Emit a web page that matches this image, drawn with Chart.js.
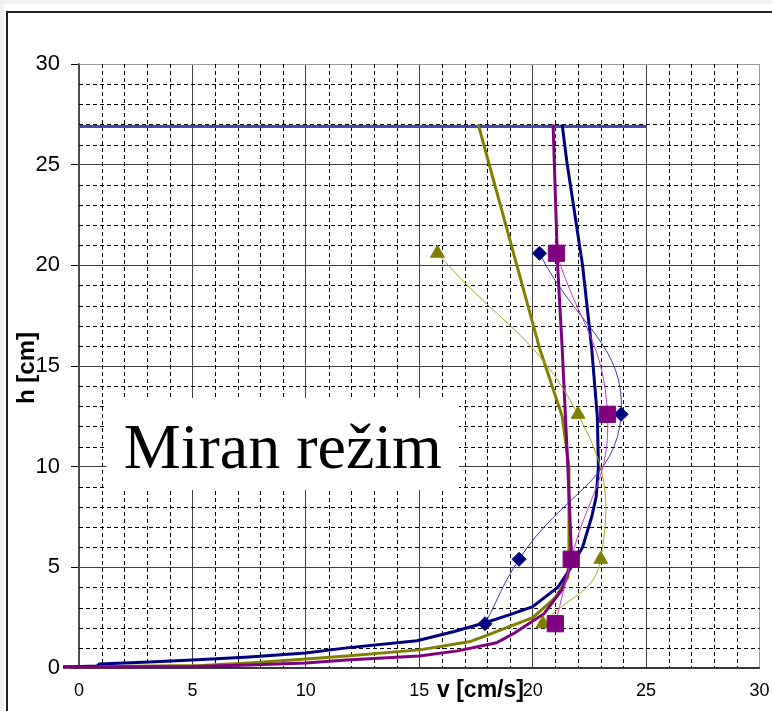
<!DOCTYPE html>
<html lang="sr">
<head>
<meta charset="UTF-8">
<title>Miran režim</title>
<script src="https://cdn.jsdelivr.net/npm/chart.js"></script>
<style>
  html, body { margin: 0; padding: 0; overflow: hidden; }
  body { width: 772px; height: 711px; background: #f2f2f2; position: relative; }
  .sheet { position: absolute; left: 4px; top: 4px; width: 768px; height: 707px; background: #fff; }
  .frame { position: absolute; left: 6px; top: 11px; width: 800px; height: 800px;
           border-left: 2px solid #222; border-top: 2px solid #222; }
  #chart { position: absolute; left: 0; top: 0; }
</style>
</head>
<body>
<div class="sheet"></div>
<div class="frame"></div>
<canvas id="chart" width="772" height="711"></canvas>
<script>
// measured points (v [cm/s], h [cm])
const depths = [20.6, 12.6, 5.4, 2.2];
const measBlue = [20.3, 23.9, 19.4, 17.9];
const measPurple = [21.05, 23.3, 21.7, 21.0];
const measOlive = [15.8, 22.0, 23.0, 20.45];

// computed profiles
const blueV = [-0.7, 0.8, 0.9, 3.1, 5.0, 7.5, 10, 11.8, 14.9, 16.5, 17.9, 19.0, 20.0, 21.1, 21.7, 22.2, 22.6, 22.8, 22.9, 22.85, 22.6, 22.2, 21.85, 21.5, 21.3];
const blueH = [0.05, 0.1, 0.2, 0.3, 0.4, 0.55, 0.75, 1.0, 1.35, 1.8, 2.25, 2.65, 3.05, 4.0, 5.0, 6.0, 7.5, 8.5, 10, 12.5, 15.9, 20, 22.6, 25.2, 27];
const oliveV = [-0.7, 5.4, 7.5, 10, 11.8, 15.0, 17.2, 17.8, 20.0, 21.0, 21.55, 21.6, 21.6, 21.3, 20.3, 17.6];
const oliveH = [0.05, 0.12, 0.25, 0.45, 0.6, 0.9, 1.3, 1.55, 2.5, 3.5, 4.5, 5.9, 10, 12.5, 15.9, 27];
const purpleV = [-0.7, 5.0, 7.5, 10, 11.8, 15.0, 16.7, 18.4, 19.2, 20.5, 21.3, 21.6, 21.7, 21.55, 21.3, 21.1, 20.9];
const purpleH = [0.05, 0.07, 0.15, 0.25, 0.4, 0.6, 0.85, 1.25, 1.74, 2.7, 3.9, 4.9, 5.9, 10, 15.9, 20, 27];

// water level
const levelV = [0, 25];
const levelH = [26.9, 26.9];

const xTicks = [0, 5, 10, 15, 20, 25, 30];
const yTicks = [0, 5, 10, 15, 20, 25, 30];

function pts(xs, ys) { return xs.map((x, i) => ({ x: x, y: ys[i] })); }

const minorGrid = {
  id: 'minorGrid',
  beforeDatasetsDraw(chart) {
    const { ctx, chartArea: a, scales: { x, y } } = chart;
    ctx.save();
    ctx.strokeStyle = '#000';
    ctx.lineWidth = 1;
    ctx.setLineDash([4, 3]);
    for (let v = 1; v < 30; v++) {
      if (v % 5 === 0) continue;
      const px = Math.round(x.getPixelForValue(v)) + 0.5;
      ctx.beginPath(); ctx.moveTo(px, a.top); ctx.lineTo(px, a.bottom); ctx.stroke();
      const py = Math.round(y.getPixelForValue(v)) + 0.5;
      ctx.beginPath(); ctx.moveTo(a.left, py); ctx.lineTo(a.right, py); ctx.stroke();
    }
    ctx.setLineDash([]);
    // label box
    const bx0 = x.getPixelForValue(1.22), bx1 = x.getPixelForValue(16.75);
    const by0 = y.getPixelForValue(13.41), by1 = y.getPixelForValue(8.84);
    ctx.fillStyle = '#fff';
    ctx.fillRect(bx0, by0, bx1 - bx0, by1 - by0);
    ctx.fillStyle = '#000';
    ctx.font = '64px "Liberation Serif", "Times New Roman", serif';
    ctx.textAlign = 'center';
    ctx.textBaseline = 'alphabetic';
    ctx.fillText('Miran režim', (bx0 + bx1) / 2, y.getPixelForValue(9.94));
    ctx.restore();
  },
  afterDraw(chart) {
    const { ctx, scales: { x, y } } = chart;
    ctx.save();
    ctx.fillStyle = '#000';
    ctx.font = 'bold 23px "Liberation Sans", Arial, sans-serif';
    ctx.textAlign = 'center';
    ctx.textBaseline = 'middle';
    ctx.fillText('v [cm/s]', x.getPixelForValue(17.7), 691);
    ctx.translate(27, y.getPixelForValue(14.9));
    ctx.rotate(-Math.PI / 2);
    ctx.font = 'bold 24px "Liberation Sans", Arial, sans-serif';
    ctx.fillText('h [cm]', 0, 0);
    ctx.restore();
  }
};

function marked(xs, color, lineColor, style, r) {
  return {
    data: pts(xs, depths), showLine: true, borderColor: lineColor, borderWidth: 1,
    tension: 0.45, pointStyle: style, pointRadius: r, pointBackgroundColor: color,
    pointBorderColor: color, pointBorderWidth: 1, clip: false
  };
}
function thick(xs, ys, color) {
  return {
    data: pts(xs, ys), showLine: true, borderColor: color, borderWidth: 3,
    pointRadius: 0, tension: 0, clip: false
  };
}

new Chart(document.getElementById('chart'), {
  type: 'scatter',
  data: {
    datasets: [
      marked(measPurple, '#800080', '#c040c0', 'rect', 11.5),
      marked(measBlue, '#000080', '#3c3cb4', 'rectRot', 7),
      marked(measOlive, '#808000', '#a8a820', 'triangle', 8),
      thick(purpleV, purpleH, '#800080'),
      thick(blueV, blueH, '#000080'),
      thick(oliveV, oliveH, '#808000'),
      thick(levelV, levelH, '#4848b4')
    ]
  },
  options: {
    responsive: false,
    animation: false,
    events: [],
    layout: { padding: { top: 64, right: 6, left: 0, bottom: 0 } },
    plugins: { legend: { display: false }, tooltip: { enabled: false } },
    scales: {
      x: {
        type: 'linear', min: 0, max: 30,
        afterBuildTicks(s) { s.ticks = xTicks.map(v => ({ value: v })); },
        afterFit(s) { s.height = 43; s.paddingLeft = 0; s.paddingRight = 0; },
        ticks: { color: '#000', padding: 12, autoSkip: false, maxRotation: 0,
                 font: { family: '"Liberation Sans", Arial, sans-serif', size: 18 } },
        grid: { drawTicks: false, lineWidth: 1,
                color: c => (c.tick && c.tick.value === 30) ? '#999' : '#404040' },
        border: { color: '#333', width: 1.5 }
      },
      y: {
        type: 'linear', min: 0, max: 30,
        afterBuildTicks(s) { s.ticks = yTicks.map(v => ({ value: v })); },
        afterFit(s) { s.width = 79; s.paddingTop = 0; s.paddingBottom = 0; },
        ticks: { color: '#000', padding: 11,
                 font: { family: '"Liberation Sans", Arial, sans-serif', size: 22 } },
        grid: { drawTicks: true, tickLength: 8, tickColor: '#000', lineWidth: 1,
                color: c => (c.tick && c.tick.value === 30) ? '#999' : '#404040' },
        border: { color: '#555', width: 1.5 }
      }
    }
  },
  plugins: [minorGrid]
});
</script>
</body>
</html>
